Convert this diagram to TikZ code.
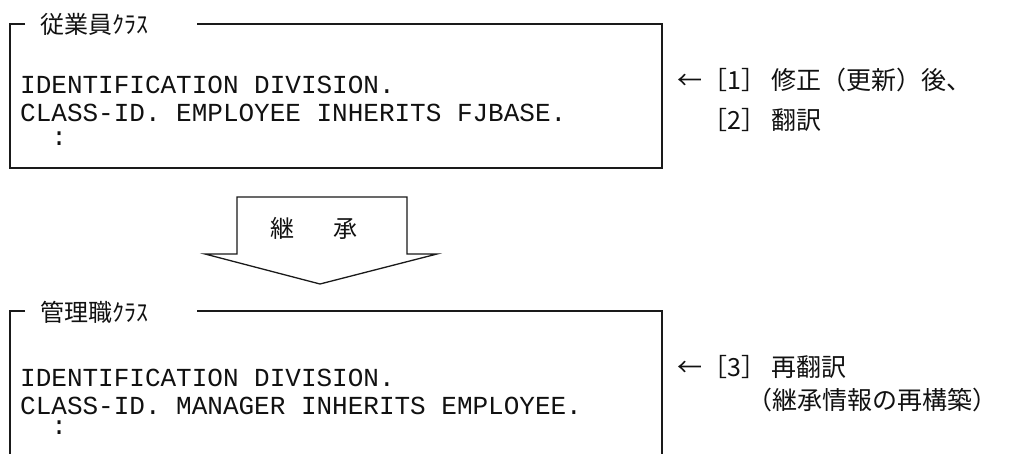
\documentclass[tikz,border=0pt]{standalone}
\usepackage{fontspec}
\newfontfamily\jpfont{Noto Sans CJK JP}
\newfontfamily\codefont{Liberation Mono}
\usetikzlibrary{positioning}
\definecolor{clsInk}{HTML}{111111}
\definecolor{clsLine}{HTML}{1A1A1A}
\definecolor{clsPaper}{HTML}{FFFFFF}

\begin{document}
\begin{tikzpicture}[x=1pt,y=-1pt,line cap=butt,line join=miter]
\path[fill=clsPaper] (0,0) rectangle (1023,454);
\tikzset{frame/.style={draw=clsLine,line width=1.3pt},title/.style={anchor=west,inner sep=0pt,text=clsInk,font=\jpfont\fontsize{24}{28}\selectfont},code/.style={anchor=west,inner sep=0pt,text=clsInk,font=\codefont\fontsize{26}{28}\selectfont},note/.style={anchor=west,inner sep=0pt,text=clsInk,font=\jpfont\fontsize{25}{30}\selectfont}}
% employee class
\draw[frame] (25,24) -- (10,24) -- (10,168) -- (662,168) -- (662,24) -- (197,24);
\node[title] (empTitle) at (40,24) {従業員ｸﾗｽ};
\node[code] (empId) at (20,85) {IDENTIFICATION DIVISION.};
\node[code] (empClass) at (20,113) {CLASS-ID. EMPLOYEE INHERITS FJBASE.};
\node[code] (empMore) at (20,139) {~~:};
\node[note] (empStepA) at (677,80) {←［1］ 修正（更新）後、};
\node[note] (empStepB) at (702,120) {［2］ 翻訳};
% inheritance arrow
\draw[frame] (237,254) -- (237,197) -- (407,197) -- (407,254) -- (437,254) -- (320,284) -- (205,254) -- cycle;
\node[note,anchor=center,font=\jpfont\fontsize{24}{28}\selectfont] (inherit) at (314,228) {継\hspace{40pt}承};
% manager class
\draw[frame] (25,311) -- (10,311) -- (10,454);
\draw[frame] (197,311) -- (662,311) -- (662,454);
\node[title] (mgrTitle) at (40,312) {管理職ｸﾗｽ};
\node[code] (mgrId) at (20,378) {IDENTIFICATION DIVISION.};
\node[code] (mgrClass) at (20,406) {CLASS-ID. MANAGER INHERITS EMPLOYEE.};
\node[code] (mgrMore) at (20,428) {~~:};
\node[note] (mgrStepA) at (677,367) {←［3］ 再翻訳};
\node[note] (mgrStepB) at (747,400) {（継承情報の再構築）};
\end{tikzpicture}
\end{document}
